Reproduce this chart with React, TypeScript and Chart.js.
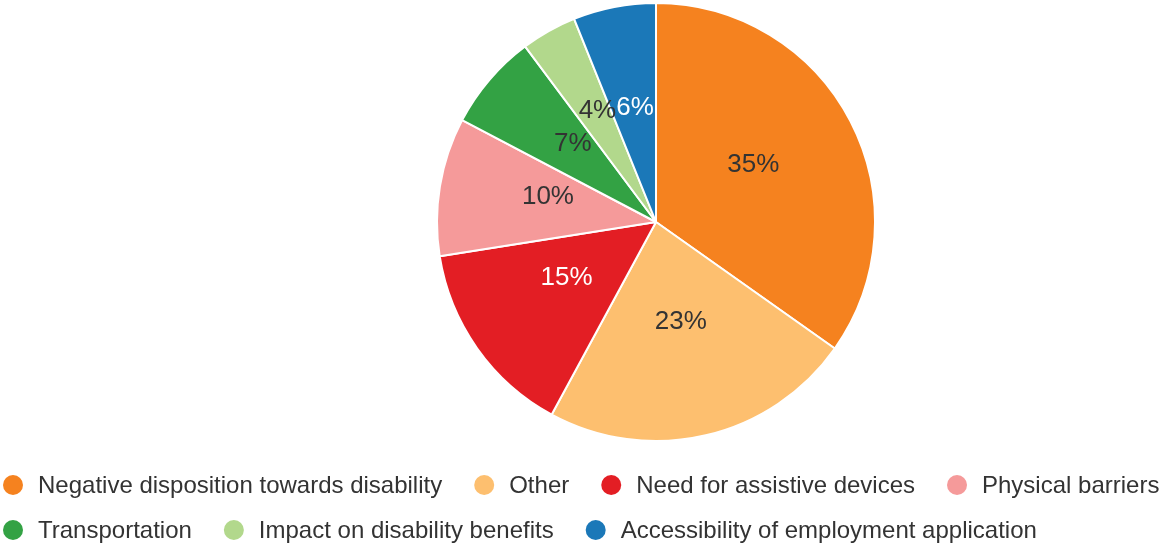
import React, { useEffect, useRef } from "react";
import { Chart, registerables } from "chart.js";

Chart.register(...registerables);

const categories = [
  "Negative disposition towards disability",
  "Other",
  "Need for assistive devices",
  "Physical barriers",
  "Transportation",
  "Impact on disability benefits",
  "Accessibility of employment application",
];
const values = [34.8, 23.1, 14.6, 10.2, 7.1, 4.1, 6.1];
const sliceColors = ["#f5821f", "#fdbf6f", "#e31e24", "#f59a9a", "#33a244", "#b2d88c", "#1b78b8"];
const labelColors = ["#333333", "#333333", "#ffffff", "#333333", "#333333", "#333333", "#ffffff"];

const FONT = "'Liberation Sans', Arial, sans-serif";

const sliceLabelPlugin = {
  id: "sliceLabels",
  afterDatasetsDraw(chart: any) {
    const ctx = chart.ctx;
    const meta = chart.getDatasetMeta(0);
    const total = values.reduce((a, b) => a + b, 0);
    ctx.save();
    ctx.font = `26px ${FONT}`;
    ctx.textAlign = "center";
    ctx.textBaseline = "alphabetic";
    const order = values.map((_, i) => i).sort((a, b) => values[b] - values[a]);
    const placed: { x: number; y: number; w: number; h: number }[] = [];
    const h = 19;
    const results: any[] = [];
    order.forEach((i) => {
      const arc = meta.data[i];
      const text = Math.round((values[i] / total) * 100) + "%";
      const w = ctx.measureText(text).width;
      const p = arc.tooltipPosition();
      const cx = arc.x;
      const cy = arc.y;
      let dx = p.x - cx;
      let dy = p.y - cy;
      const len = Math.sqrt(dx * dx + dy * dy) || 1;
      dx /= len;
      dy /= len;
      let x = p.x;
      let y = p.y;
      for (let t = 0; t < 80; t++) {
        const vx = x;
        const vy = y - h / 2;
        const hit = placed.some(
          (b) => Math.abs(b.x - vx) < (b.w + w) / 2 && Math.abs(b.y - vy) < (b.h + h) / 2
        );
        if (!hit) break;
        x += dx;
        y += dy;
      }
      placed.push({ x, y: y - h / 2, w, h });
      results.push({ i, text, x, y });
    });
    results
      .sort((a, b) => a.i - b.i)
      .forEach((r) => {
        ctx.fillStyle = labelColors[r.i];
        ctx.fillText(r.text, r.x, r.y);
      });
    ctx.restore();
  },
};

const legendPlugin = {
  id: "bottomLegend",
  afterDraw(chart: any) {
    const ctx = chart.ctx;
    const W = chart.width;
    ctx.save();
    ctx.font = `24px ${FONT}`;
    ctx.textBaseline = "middle";
    ctx.textAlign = "left";
    const startX = 1;
    const lineH = 45;
    let y = chart.chartArea.bottom + 43;
    let x = startX;
    categories.forEach((label, i) => {
      const tw = ctx.measureText(label).width;
      if (x > startX && x + 37 + tw > W) {
        x = startX;
        y += lineH;
      }
      ctx.beginPath();
      ctx.arc(x + 12, y, 10, 0, Math.PI * 2);
      ctx.fillStyle = sliceColors[i];
      ctx.fill();
      ctx.fillStyle = "#333333";
      ctx.fillText(label, x + 37, y + 1);
      x = x + 37 + tw + 30;
    });
    ctx.restore();
  },
};

export default function App() {
  const ref = useRef<HTMLCanvasElement | null>(null);
  useEffect(() => {
    if (!ref.current) return;
    const chart = new Chart(ref.current, {
      type: "pie",
      data: {
        labels: categories,
        datasets: [
          {
            data: values,
            backgroundColor: sliceColors,
            borderColor: "#ffffff",
            borderWidth: 2,
          },
        ],
      },
      options: {
        responsive: false,
        animation: false,
        layout: { padding: { left: 436, right: 287, top: 2, bottom: 104 } },
        plugins: {
          legend: { display: false },
          tooltip: { enabled: false },
        },
      },
      plugins: [sliceLabelPlugin, legendPlugin],
    });
    return () => chart.destroy();
  }, []);
  return (
    <div style={{ position: "fixed", left: 0, top: 0, width: 1163, height: 546, background: "#fff" }}>
      <canvas ref={ref} width={1163} height={546} />
    </div>
  );
}
